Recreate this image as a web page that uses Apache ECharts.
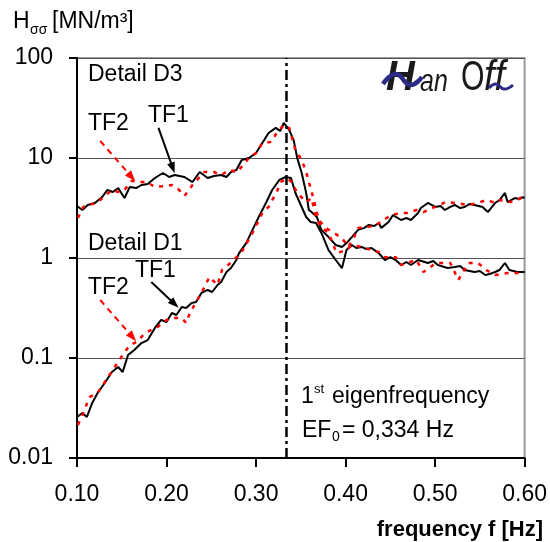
<!DOCTYPE html>
<html>
<head>
<meta charset="utf-8">
<script src="https://cdn.jsdelivr.net/npm/echarts/dist/echarts.min.js"></script>
<style>
html,body{margin:0;padding:0;background:#fff;}
#c{width:550px;height:542px;}
</style>
</head>
<body>
<div id="c"></div>
<script>
// ---------- data (frequency [Hz], H [MN/m3]) ----------
const xTicks = [0.10, 0.20, 0.30, 0.40, 0.50, 0.60];
const yTickLabels = ['0.01', '0.1', '1', '10', '100'];
const EF0 = 0.334;

const d3_tf1 = [
[0.100,3.31],[0.106,3.02],[0.112,3.39],[0.120,3.55],[0.128,4.07],[0.134,4.79],[0.140,4.57],[0.146,5.01],
[0.153,3.98],[0.159,5.13],[0.166,5.01],[0.172,5.37],[0.179,5.50],[0.187,6.31],[0.196,7.08],[0.203,6.46],
[0.209,6.76],[0.220,6.46],[0.229,5.75],[0.237,7.24],[0.246,6.31],[0.253,6.61],[0.261,6.76],[0.267,6.46],
[0.272,7.24],[0.278,7.59],[0.284,9.55],[0.292,10.0],[0.300,11.2],[0.307,14.1],[0.314,17.8],[0.322,20.0],
[0.327,18.6],[0.331,22.4],[0.337,19.1],[0.342,15.1],[0.346,10.0],[0.351,7.08],[0.356,4.47],[0.359,3.02],
[0.362,2.88],[0.368,2.57],[0.373,1.91],[0.381,1.62],[0.389,1.35],[0.396,1.29],[0.401,1.41],[0.407,1.62],
[0.414,1.91],[0.421,2.00],[0.426,2.14],[0.432,2.09],[0.437,2.24],[0.440,2.00],[0.448,2.29],[0.453,2.69],
[0.462,2.40],[0.468,2.51],[0.473,2.40],[0.481,2.82],[0.484,3.16],[0.492,3.55],[0.500,3.24],[0.506,3.31],
[0.511,3.02],[0.517,3.24],[0.522,3.39],[0.528,3.16],[0.533,3.24],[0.539,3.47],[0.544,3.39],[0.553,3.24],
[0.559,2.88],[0.567,3.55],[0.572,3.80],[0.578,4.47],[0.581,3.63],[0.589,3.98],[0.594,3.89],[0.598,4.07],
[0.600,3.98]
];

const d1_tf1 = [
[0.100,0.0257],[0.106,0.0282],[0.111,0.0257],[0.117,0.0355],[0.123,0.0447],[0.131,0.0562],[0.139,0.0724],
[0.146,0.0813],[0.151,0.0724],[0.157,0.107],[0.164,0.120],[0.172,0.141],[0.179,0.151],[0.187,0.200],
[0.194,0.240],[0.200,0.229],[0.206,0.282],[0.211,0.269],[0.217,0.324],[0.222,0.316],[0.228,0.355],
[0.233,0.363],[0.239,0.447],[0.246,0.479],[0.251,0.457],[0.257,0.537],[0.261,0.575],[0.267,0.724],
[0.272,0.794],[0.278,0.955],[0.281,1.12],[0.289,1.41],[0.296,1.91],[0.303,2.57],[0.311,3.55],[0.318,4.79],
[0.326,6.03],[0.333,6.46],[0.339,6.31],[0.344,4.47],[0.350,3.39],[0.356,2.57],[0.361,2.29],[0.367,2.24],
[0.373,1.78],[0.381,1.20],[0.389,0.955],[0.396,0.794],[0.401,1.20],[0.407,1.35],[0.412,1.26],[0.418,1.29],
[0.423,1.23],[0.429,1.26],[0.437,1.12],[0.444,0.955],[0.450,1.02],[0.456,0.955],[0.462,0.851],[0.468,0.912],
[0.473,0.851],[0.481,0.955],[0.492,0.891],[0.498,0.933],[0.503,0.851],[0.514,0.794],[0.522,0.813],
[0.528,0.832],[0.533,0.759],[0.544,0.724],[0.550,0.741],[0.556,0.676],[0.561,0.692],[0.567,0.724],
[0.572,0.759],[0.578,0.891],[0.583,0.759],[0.592,0.724],[0.600,0.724]
];

const d3_tf2 = [
[0.101,2.51],[0.107,3.24],[0.112,3.39],[0.122,3.55],[0.131,4.17],[0.139,4.79],[0.146,4.57],[0.153,4.79],
[0.161,5.89],[0.170,5.75],[0.178,5.75],[0.187,5.13],[0.198,5.25],[0.206,5.37],[0.212,5.01],[0.220,4.17],
[0.229,5.37],[0.242,7.24],[0.253,7.24],[0.261,6.76],[0.270,7.59],[0.279,7.24],[0.292,10.0],[0.300,11.2],
[0.307,14.1],[0.317,14.5],[0.323,17.8],[0.331,21.4],[0.337,20.0],[0.344,12.0],[0.351,9.55],[0.356,7.24],
[0.359,5.75],[0.364,3.98],[0.370,2.40],[0.378,2.00],[0.387,1.78],[0.396,1.58],[0.403,1.29],[0.409,1.58],
[0.414,2.00],[0.422,2.04],[0.433,2.09],[0.439,2.29],[0.451,2.69],[0.462,2.82],[0.470,2.82],[0.479,3.02],
[0.487,2.88],[0.500,3.24],[0.512,3.63],[0.523,3.55],[0.537,3.39],[0.548,3.55],[0.557,3.80],[0.568,3.55],
[0.573,3.80],[0.584,3.63],[0.592,3.80],[0.600,4.27]
];

const d1_tf2 = [
[0.101,0.0214],[0.106,0.0269],[0.114,0.0407],[0.123,0.0447],[0.134,0.0631],[0.140,0.0759],[0.151,0.107],
[0.159,0.135],[0.167,0.145],[0.176,0.178],[0.190,0.204],[0.200,0.240],[0.209,0.251],[0.217,0.251],
[0.222,0.224],[0.226,0.282],[0.239,0.447],[0.248,0.646],[0.257,0.537],[0.262,0.759],[0.273,0.912],
[0.284,1.15],[0.296,1.78],[0.307,2.82],[0.314,3.24],[0.323,4.57],[0.328,5.75],[0.334,6.31],[0.340,5.75],
[0.346,4.47],[0.356,3.63],[0.362,3.98],[0.367,2.51],[0.373,2.04],[0.381,1.78],[0.390,1.12],[0.401,1.20],
[0.407,1.35],[0.418,1.29],[0.429,1.20],[0.437,1.15],[0.444,1.02],[0.456,1.02],[0.462,0.851],[0.479,0.955],
[0.487,0.724],[0.501,0.891],[0.517,0.891],[0.526,0.603],[0.537,0.891],[0.548,0.891],[0.557,0.759],
[0.567,0.676],[0.581,0.708],[0.590,0.708],[0.600,0.708]
];

// annotation arrows: [from, to] in data coordinates
const arrowsTF1 = [ [[0.191,20.0],[0.207,7.94]], [[0.183,0.575],[0.209,0.347]] ];
const arrowsTF2 = [ [[0.126,14.8],[0.161,6.46]], [[0.126,0.380],[0.162,0.162]] ];

// ---------- chart ----------
const FONT = "'Liberation Sans', Arial, sans-serif";
const FS = 23;
const chart = echarts.init(document.getElementById('c'), null, {renderer:'canvas'});

function arrowML(list, color, dashed) {
  return {
    silent: true, animation: false,
    symbol: ['none', 'triangle'], symbolSize: [8, 11],
    label: {show:false},
    lineStyle: {color: color, width: 2, type: dashed ? [6,5] : 'solid'},
    itemStyle: {color: color},
    data: list.map(a => [{coord: a[0]}, {coord: a[1]}])
  };
}

function txt(x, y, text, size, opts) {
  opts = opts || {};
  return {
    type: 'text', x: x, y: y, z: 100,
    scaleX: opts.scaleX || 1,
    style: {
      text: text, x: 0, y: 0,
      fontSize: size, fontFamily: opts.family || FONT,
      fontWeight: opts.weight || 'normal', fontStyle: opts.style || 'normal',
      fill: opts.color || '#000',
      align: opts.align || 'left', verticalAlign: 'middle'
    }
  };
}

const option = {
  animation: false,
  backgroundColor: '#fff',
  grid: {left: 77, right: 23, top: 58, bottom: 84, show: true, borderColor: '#9a9a9a', borderWidth: 2, backgroundColor: 'transparent'},
  xAxis: {
    type: 'value', min: 0.1, max: 0.6, interval: 0.1,
    axisLine: {show: true, onZero: false, lineStyle: {color: '#000', width: 2}},
    axisTick: {show: true, length: 9, lineStyle: {color: '#000', width: 2}},
    axisLabel: {fontSize: FS, fontFamily: FONT, color: '#000', margin: 25,
      formatter: v => v.toFixed(2)},
    splitLine: {show: false}
  },
  yAxis: {
    type: 'log', logBase: 10, min: 0.01, max: 100,
    axisLine: {show: true, onZero: false, lineStyle: {color: '#000', width: 2}},
    axisTick: {show: true, length: 8, lineStyle: {color: '#000', width: 2}},
    minorTick: {show: false},
    axisLabel: {fontSize: FS, fontFamily: FONT, color: '#000', margin: 24,
      formatter: v => yTickLabels[Math.round(Math.log10(v)) + 2]},
    splitLine: {show: true, lineStyle: {color: '#555', width: 1}}
  },
  series: [
    {name: 'D3 TF2', type: 'line', data: d3_tf2, showSymbol: false, symbol: 'none', z: 4,
      lineStyle: {color: '#ff0000', width: 2.5, type: [4, 6]}},
    {name: 'D1 TF2', type: 'line', data: d1_tf2, showSymbol: false, symbol: 'none', z: 4,
      lineStyle: {color: '#ff0000', width: 2.5, type: [4, 6]}},
    {name: 'D3 TF1', type: 'line', data: d3_tf1, showSymbol: false, symbol: 'none', z: 3,
      lineStyle: {color: '#000', width: 2}},
    {name: 'D1 TF1', type: 'line', data: d1_tf1, showSymbol: false, symbol: 'none', z: 3,
      lineStyle: {color: '#000', width: 2}},
    {name: 'EF0', type: 'line', data: [[EF0, 0.01], [EF0, 100]], showSymbol: false, symbol: 'none', z: 5,
      lineStyle: {color: '#000', width: 2.5, type: [10, 4, 3, 4]}},
    {name: 'arrows1', type: 'line', data: [], z: 6, markLine: arrowML(arrowsTF1, '#000', false)},
    {name: 'arrows2', type: 'line', data: [], z: 6, markLine: arrowML(arrowsTF2, '#ff0000', true)}
  ],
  graphic: [
    // axis titles
    txt(13, 22, 'H', FS),
    txt(30, 30, 'σσ', 14),
    txt(52, 22, '[MN/m³]', FS),
    txt(543, 530, 'frequency f [Hz]', 22, {weight: 'bold', align: 'right'}),
    // annotations
    txt(88, 75, 'Detail D3', FS),
    txt(88, 124, 'TF2', FS),
    txt(148, 116, 'TF1', FS),
    txt(88, 244, 'Detail D1', FS),
    txt(135, 271, 'TF1', FS),
    txt(88, 288, 'TF2', FS),
    txt(301, 397, '1', FS),
    txt(314, 389, 'st', 13),
    txt(332, 397, 'eigenfrequency', FS),
    txt(302, 431, 'EF', FS),
    txt(332, 437, '0', 14),
    txt(342, 431, '= 0,334 Hz', FS),
    // logo
    txt(386, 78, 'H', 42, {style: 'italic', weight: 'bold', color: '#1a1a1a', scaleX: 0.95}),
    txt(420, 82, 'an', 32, {style: 'italic', scaleX: 0.78, color: '#1a1a1a'}),
    txt(461, 78, 'O', 42, {scaleX: 0.72, color: '#1a1a1a'}),
    txt(484, 78, 'ff', 42, {style: 'italic', scaleX: 0.9, color: '#1a1a1a'}),
    {type: 'polyline', z: 101, shape: {points: [[383, 84], [396, 74], [410, 85], [422, 77]], smooth: 0.5},
      style: {stroke: '#2b2a86', lineWidth: 4.5, fill: null}},
    {type: 'polyline', z: 101, shape: {points: [[489, 88], [496, 84], [504, 89], [513, 85]], smooth: 0.5},
      style: {stroke: '#2b2a86', lineWidth: 3, fill: null}}
  ]
};
chart.setOption(option);
</script>
</body>
</html>
